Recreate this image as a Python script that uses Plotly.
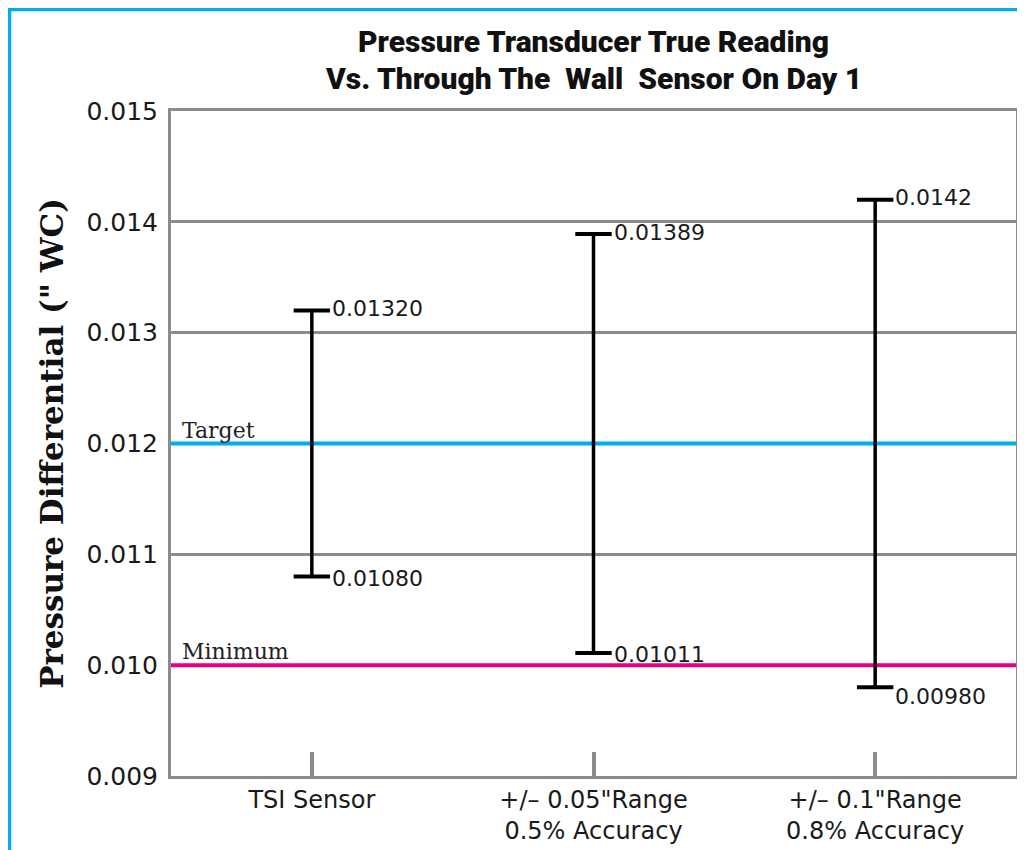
import plotly.graph_objects as go

# ---- data ----
categories = ["TSI Sensor", "+/\u2013 0.05\"Range<br>0.5% Accuracy", "+/\u2013 0.1\"Range<br>0.8% Accuracy"]
low_values = [0.01080, 0.01011, 0.00980]
high_values = [0.01320, 0.01389, 0.0142]
low_labels = ["0.01080", "0.01011", "0.00980"]
high_labels = ["0.01320", "0.01389", "0.0142"]
ref_names = ["Target", "Minimum"]
ref_values = [0.012, 0.010]
ref_colors = ["#00AEEF", "#E6007E"]
y_ticks = [0.009, 0.010, 0.011, 0.012, 0.013, 0.014, 0.015]
title_lines = ["Pressure Transducer True Reading", "Vs. Through The  Wall  Sensor On Day 1"]

GRAY = "#8c8c8c"
W, H = 1017, 842
ML, MR, MT, MB = 163, 9, 103, 74
PW, PH = W - ML - MR, H - MT - MB


def px_x(p):
    return (p - ML) / PW


def px_y(p):
    return (H - MB - p) / PH


fig = go.Figure()
n = len(categories)

# reference lines across the full category range
for name, val, col in zip(ref_names, ref_values, ref_colors):
    fig.add_trace(go.Scatter(
        x=[-0.5, n - 0.5], y=[val, val], mode="lines",
        line=dict(color=col, width=4), hoverinfo="skip", showlegend=False))
    fig.add_annotation(
        xref="paper", x=0, xanchor="left", xshift=9,
        yref="y", y=val, yanchor="bottom", yshift=-1,
        text=name, showarrow=False,
        font=dict(family="DejaVu Serif", size=22, color="#222222"))

# range bars
for i, (lo, hi) in enumerate(zip(low_values, high_values)):
    fig.add_trace(go.Scatter(
        x=[i, i], y=[lo, hi], mode="lines+markers",
        line=dict(color="black", width=3.5),
        marker=dict(symbol="line-ew", size=26, color="black",
                    line=dict(color="black", width=4)),
        hoverinfo="skip", showlegend=False))

# value labels
for i, (lo, hi, lol, hil) in enumerate(zip(low_values, high_values, low_labels, high_labels)):
    fig.add_annotation(x=i, y=hi, xref="x", yref="y", text=hil, showarrow=False,
                       xanchor="left", yanchor="middle", xshift=18, yshift=2,
                       font=dict(family="DejaVu Sans", size=22, color="#1a1a1a"))
    shift = -9 if lo < min(ref_values) else -2
    fig.add_annotation(x=i, y=lo, xref="x", yref="y", text=lol, showarrow=False,
                       xanchor="left", yanchor="middle", xshift=18, yshift=shift,
                       font=dict(family="DejaVu Sans", size=22, color="#1a1a1a"))

# outer blue frame
fig.add_shape(type="rect", xref="paper", yref="paper",
              x0=px_x(1.5), x1=px_x(W + 30),
              y0=px_y(H + 30), y1=px_y(1.5),
              line=dict(color="#00AEEF", width=3.5), layer="below")

# second title line
fig.add_annotation(xref="paper", yref="paper", x=0.5, y=px_y(70),
                   xanchor="center", yanchor="middle", showarrow=False,
                   text=title_lines[1],
                   font=dict(family="Roboto", size=30, color="#111111", weight=900))

fig.update_layout(
    width=W, height=H,
    margin=dict(l=ML, r=MR, t=MT, b=MB, autoexpand=False),
    paper_bgcolor="white", plot_bgcolor="white",
    title=dict(text=title_lines[0],
               x=0.5, xref="paper", xanchor="center",
               y=1 - 33 / H, yanchor="middle",
               font=dict(family="Roboto", size=30, color="#111111", weight=900)),
    xaxis=dict(
        tickmode="array", tickvals=list(range(n)), ticktext=categories,
        range=[-0.5, n - 0.5], automargin=False,
        showgrid=False, zeroline=False,
        showline=True, linecolor=GRAY, linewidth=3, mirror=True,
        ticks="inside", ticklen=24, tickwidth=3.5, tickcolor=GRAY,
        ticklabelstandoff=0,
        tickfont=dict(family="DejaVu Sans", size=24, color="#1a1a1a")),
    yaxis=dict(
        range=[0.009, 0.015], tickvals=y_ticks, tickformat=".3f",
        automargin=False,
        showgrid=True, gridcolor=GRAY, gridwidth=2.5, zeroline=False,
        showline=True, linecolor=GRAY, linewidth=3, mirror=True,
        ticks="", ticklabelstandoff=5,
        tickfont=dict(family="DejaVu Sans", size=25, color="#1a1a1a"),
        title=dict(text="Pressure Differential (\" WC)", standoff=14,
                   font=dict(family="DejaVu Serif", size=31, color="#111111", weight="bold"))),
)

fig.write_html("out.html")
